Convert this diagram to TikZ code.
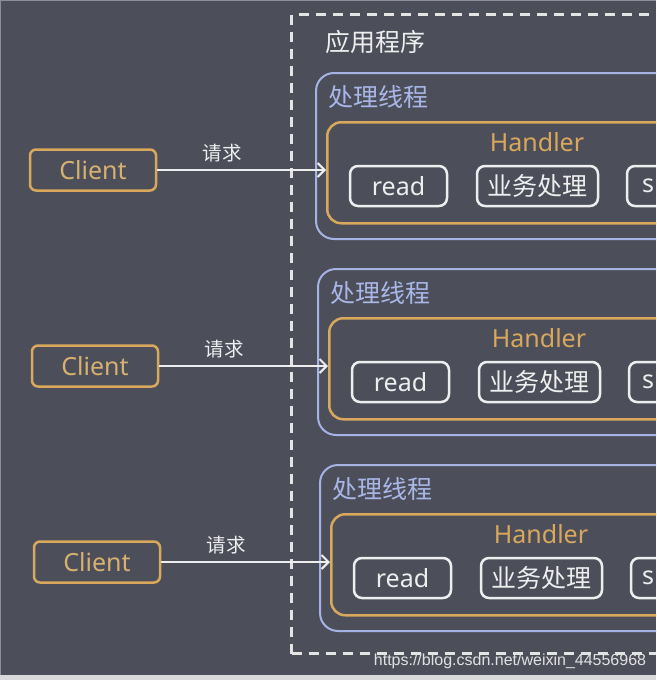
\documentclass[tikz,border=0pt]{standalone}
\usepackage{fontspec}
\setmainfont{Noto Sans}
\newfontfamily\cjk{Noto Sans CJK SC}
\newfontfamily\wmfont{Liberation Sans}
\usetikzlibrary{arrows.meta}
\definecolor{bg}{HTML}{4C4F5A}
\definecolor{org}{HTML}{D9A85C}
\definecolor{orgtxt}{HTML}{D8B070}
\definecolor{blu}{HTML}{A4B2E4}
\definecolor{blutxt}{HTML}{A9B7E8}
\definecolor{wht}{HTML}{EEEEEE}
\definecolor{dashc}{HTML}{E4E4E4}
\definecolor{strip}{HTML}{D9D9D9}
\definecolor{edge}{HTML}{8C8F98}
\definecolor{wmc}{HTML}{E1E1E1}
\tikzset{
  clientbox/.style={draw=org, line width=2.5pt, rounded corners=6pt, minimum width=126pt, minimum height=41pt, inner sep=0pt, text=orgtxt, font=\fontsize{25}{25}\selectfont},
  threadbox/.style={draw=blu, line width=2pt, rounded corners=18pt, minimum width=420pt, minimum height=166pt, inner sep=0pt, anchor=north west},
  handlerbox/.style={draw=org, line width=2.5pt, rounded corners=14pt, minimum width=420pt, minimum height=101pt, inner sep=0pt, anchor=north west},
  stepbox/.style={draw=wht, line width=2.5pt, rounded corners=8pt, minimum height=40pt, inner sep=0pt, text=wht, font=\fontsize{25}{25}\selectfont},
  steptext/.style={text=wht, font=\fontsize{25}{25}\selectfont, inner sep=0pt},
  reqarrow/.style={draw=wht, line width=2.5pt, -{Straight Barb[length=7pt,width=14pt,line width=2pt]}},
  reqlabel/.style={text=wht, font=\cjk\fontsize{19.5}{20}\selectfont, inner sep=0pt},
  threadlabel/.style={text=blutxt, font=\cjk\fontsize{25}{25}\selectfont, inner sep=0pt, anchor=west},
  handlerlabel/.style={text=org, font=\fontsize{25}{25}\selectfont, inner sep=0pt},
}
\begin{document}
\begin{tikzpicture}[x=1pt,y=-1pt]
\useasboundingbox (0,0) rectangle (656,680);
\clip (0,0) rectangle (656,680);
\fill[bg] (0,0) rectangle (656,680);
\fill[strip] (0,675) rectangle (656,680);
\draw[line width=1pt, edge] (0.5,675) -- (0.5,0.5) -- (656,0.5);
% application frame
\node[draw=dashc, line width=3pt, dash pattern=on 10pt off 7pt, minimum width=420pt, minimum height=639pt, inner sep=0pt, anchor=north west] (app) at (290,13) {};
\node[text=wht, font=\cjk\fontsize{25}{25}\selectfont, inner sep=0pt, anchor=west] (applabel) at (325,42) {应用程序};
\foreach \i/\dx/\dy in {1/0/0,2/2/196,3/4/392}{
  \begin{scope}[shift={(\dx,\dy)}]
    \node[threadbox] (thread\i) at (315,72) {};
    \node[threadlabel] (tl\i) at (328,97) {处理线程};
    \node[handlerbox] (handler\i) at (326,121) {};
    \node[handlerlabel] (hl\i) at (537,142) {Handler};
    \node[stepbox, minimum width=97pt] (read\i) at (398.5,186) {read};
    \node[stepbox, minimum width=121pt, font=\cjk\fontsize{25}{25}\selectfont] (biz\i) at (537.5,186) {业务处理};
    \node[stepbox, minimum width=97pt] (send\i) at (675.5,186) {};
    \node[steptext, anchor=west] (sendtxt\i) at ({642-\dx},186) {s};
    \node[clientbox] (client\i) at (93,170) {Client};
    \node[reqlabel] (req\i) at (222,153) {请求};
  \end{scope}
  \draw[reqarrow] (client\i.east) -- (client\i.east -| handler\i.west);
}
\node[text=wmc, font=\wmfont\fontsize{16}{16}\selectfont, inner sep=0pt] (wm) at (510,661) {https://blog.csdn.net/weixin\_44556968};
\end{tikzpicture}
\end{document}
